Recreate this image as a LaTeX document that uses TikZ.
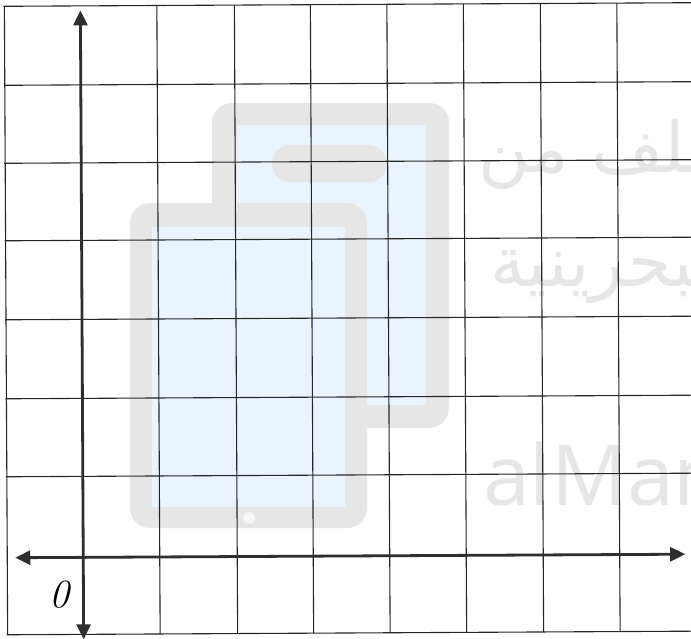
\documentclass[tikz,border=0pt]{standalone}
\usepackage{fontspec}
\usetikzlibrary{arrows.meta}
\TeXXeTstate=1
\newfontfamily\arabicfont[Script=Arabic]{DejaVu Sans}
\newfontfamily\wmfont{Open Sans}
\definecolor{wmgrey}{HTML}{E6E6E6}
\definecolor{wmblue}{HTML}{EBF4FD}
\definecolor{axiscol}{HTML}{2E2E2E}
\begin{document}
\begin{tikzpicture}[x=1pt,y=-1pt,
  gridline/.style={line width=1.1pt, black!85},
  axisline/.style={line width=2.8pt, axiscol, {Triangle[length=15pt,width=14pt]}-{Triangle[length=15pt,width=14pt]}},
  wmtext/.style={text=wmgrey, inner sep=0pt, anchor=base west}]
\useasboundingbox (0,0) rectangle (691,638);
\clip (0,0) rectangle (691,638);
\fill[white] (0,0) rectangle (691,638);
% watermark: back phone
\fill[wmgrey, rounded corners=20pt] (212,103) rectangle (449,428);
\fill[wmblue] (237,125) rectangle (426,405);
\fill[wmgrey, rounded corners=18pt] (272,145) rectangle (387,182);
% watermark: front phone
\fill[wmgrey, rounded corners=20pt] (130,203) rectangle (367,528);
\fill[wmblue] (152,227) rectangle (345,507);
\fill[white!60!wmgrey] (249,518) circle (6pt);
% watermark texts
\node[wmtext] (ar1) at (478,172) {\arabicfont\fontsize{70}{70}\selectfont\beginR الملف من\endR};
\node[wmtext] (ar2) at (490,286) {\arabicfont\fontsize{70}{70}\selectfont\beginR البحرينية\endR};
\node[wmtext] (wm) at (483,505) {\wmfont\fontsize{84}{84}\selectfont alManahj};
% grid and axes (scanned page, slightly rotated)
\begin{scope}[rotate around={0.3:(345,319)}]
  \foreach \y in {4.5,83.5,161.5,239,318,397,475,633}
    \draw[gridline] (5,\y) -- (705,\y);
  \foreach \x in {6,158.5,236,312,388.5,465,542,618.5}
    \draw[gridline] (\x,4.5) -- (\x,633);
  \coordinate (yt) at (82,9);
  \coordinate (yb) at (82,638);
  \coordinate (xl) at (14,556);
  \coordinate (xr) at (684,556);
  \draw[axisline] (yb) -- (yt);
  \draw[axisline] (xl) -- (xr);
  \node[font=\fontsize{40}{40}\selectfont\itshape, inner sep=0pt] (zero) at (58,593) {0};
\end{scope}
\end{tikzpicture}
\end{document}
